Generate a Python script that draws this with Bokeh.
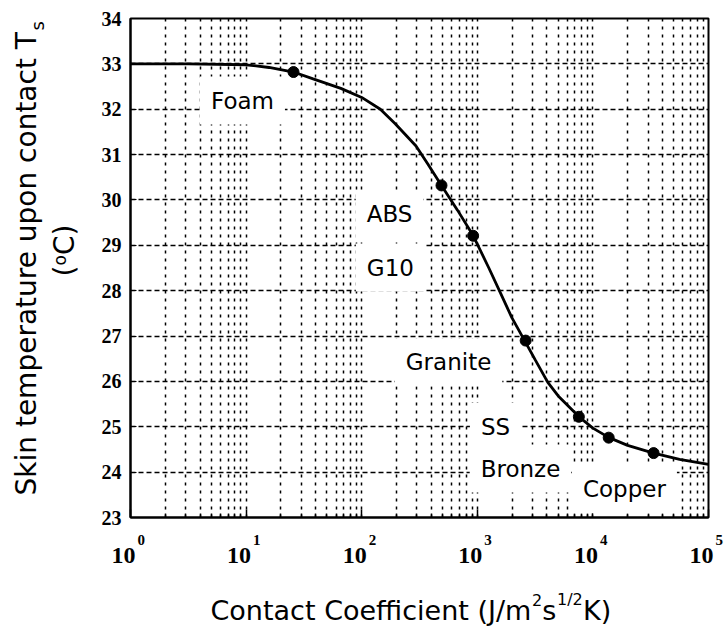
import math
from bokeh.plotting import figure
from bokeh.layouts import row, column
from bokeh.models import Label, FixedTicker, Range1d
from bokeh.embed import file_html
from bokeh.resources import INLINE

# ---- data ----
curve_x = [1, 3.16, 10, 15.8, 25.7, 38, 66, 100, 145, 195, 295, 372, 490, 676, 923,
           1259, 1585, 1995, 2630, 3162, 4074, 5012, 7586, 10000, 13800, 19950,
           33500, 56200, 100000]
curve_t = [33.00, 33.00, 32.98, 32.92, 32.82, 32.67, 32.46, 32.26, 32.00, 31.68,
           31.19, 30.80, 30.32, 29.77, 29.21, 28.50, 27.95, 27.40, 26.85, 26.48,
           25.98, 25.68, 25.22, 24.97, 24.76, 24.59, 24.42, 24.28, 24.17]

materials = ["Foam", "ABS", "G10", "Granite", "SS", "Bronze", "Copper"]
mat_coeff = [25.7, 490, 920, 2620, 7560, 13700, 33500]
mat_temp = [32.82, 30.32, 29.21, 26.90, 25.22, 24.76, 24.42]

y_ticks = [23, 24, 25, 26, 27, 28, 29, 30, 31, 32, 33, 34]
x_ticks = [1, 10, 100, 1000, 10000, 100000]
x_tick_base = ["10", "10", "10", "10", "10", "10"]
x_tick_exp = ["0", "1", "2", "3", "4", "5"]

# ---- page layout (canvas px) ----
W, H = 727, 631
LW = 90                          # width of the left title strip
L, R, T, B = 130, 708, 18, 517   # plot frame
MAIN_H = 529                     # height of the top row
DEC = (R - L) / 5.0              # px per decade

# ---------------- main plot ----------------
minor = [m * 10 ** d for d in range(5) for m in range(2, 10)]

p = figure(width=W - LW, height=MAIN_H, x_axis_type="log",
           x_range=Range1d(1, 1e5), y_range=Range1d(23, 34),
           output_backend="svg", toolbar_location=None,
           min_border_left=L - LW, min_border_right=W - R,
           min_border_top=T, min_border_bottom=MAIN_H - B)
p.background_fill_color = "white"
p.border_fill_color = "white"
p.outline_line_color = "black"
p.outline_line_width = 2

p.xaxis.ticker = FixedTicker(ticks=x_ticks, minor_ticks=minor)
p.xaxis.major_label_overrides = {t: "" for t in x_ticks}
p.xaxis.major_label_text_font_size = "1px"
p.xaxis.major_label_standoff = 0
p.xaxis.axis_line_width = 2
p.xaxis.major_tick_in = 8
p.xaxis.major_tick_out = 0
p.xaxis.minor_tick_in = 4
p.xaxis.minor_tick_out = 0
p.xaxis.major_tick_line_width = 1.5
p.xaxis.minor_tick_line_width = 1.5

p.yaxis.ticker = FixedTicker(ticks=y_ticks)
p.yaxis.major_label_text_font = "Liberation Serif"
p.yaxis.major_label_text_font_style = "bold"
p.yaxis.major_label_text_font_size = "20px"
p.yaxis.major_label_text_color = "black"
p.yaxis.major_label_standoff = 9
p.yaxis.axis_line_width = 2
p.yaxis.major_tick_in = 6
p.yaxis.major_tick_out = 0
p.yaxis.minor_tick_line_color = None

p.xgrid.grid_line_color = "black"
p.xgrid.grid_line_width = 1.5
p.xgrid.grid_line_dash = "3 5"
p.xgrid.minor_grid_line_color = "black"
p.xgrid.minor_grid_line_width = 1.5
p.xgrid.minor_grid_line_dash = "3 5"
p.ygrid.grid_line_color = "black"
p.ygrid.grid_line_width = 1.4
p.ygrid.grid_line_dash = "5 3"

p.line(curve_x, curve_t, line_width=2.8, color="black")
p.scatter(mat_coeff, mat_temp, size=11, color="black")

label_pos = {
    "Foam": (9.3, 32.19),
    "ABS": (174, 29.68),
    "G10": (177, 28.51),
    "Granite": (564, 26.42),
    "SS": (1437, 25.0),
    "Bronze": (2365, 24.08),
    "Copper": (18750, 23.62),
}
for name in materials:
    lx, ly = label_pos[name]
    p.add_layout(Label(x=lx, y=ly, text=name, text_font="DejaVu Sans",
                       text_font_size="23px", text_color="black",
                       text_align="center", text_baseline="middle",
                       background_fill_color="white", padding=11))

# ---------------- left strip: y title ----------------
lf = figure(width=LW, height=MAIN_H, x_range=Range1d(0, LW), y_range=Range1d(MAIN_H, 0),
            output_backend="svg", toolbar_location=None,
            x_axis_location=None, y_axis_location=None,
            min_border_left=0, min_border_right=0, min_border_top=0, min_border_bottom=0)
lf.outline_line_color = None
lf.background_fill_color = "white"
lf.border_fill_color = "white"
lf.xgrid.visible = False
lf.ygrid.visible = False

A = math.pi / 2
def llabel(text, cx, py, size):
    lf.add_layout(Label(x=cx, y=py, text=text, text_font="DejaVu Sans",
                        text_font_size=size, text_align="left",
                        text_baseline="middle", text_color="black", angle=A))

llabel("Skin temperature upon contact T", 26, 495, "28px")
llabel("s", 37, 30, "18px")
llabel("(", 64, 276, "28px")
llabel("o", 59, 265, "17px")
llabel("C)", 64, 254.5, "28px")

# ---------------- bottom strip: x tick labels + x title ----------------
bf = figure(width=W, height=H - MAIN_H, x_axis_type="log",
            x_range=Range1d(10 ** (-L / DEC), 10 ** (5 + (W - R) / DEC)),
            y_range=Range1d(H, MAIN_H),
            output_backend="svg", toolbar_location=None,
            x_axis_location=None, y_axis_location=None,
            min_border_left=0, min_border_right=0, min_border_top=0, min_border_bottom=0)
bf.outline_line_color = None
bf.background_fill_color = "white"
bf.border_fill_color = "white"
bf.xgrid.visible = False
bf.ygrid.visible = False

for tv, base, ex in zip(x_ticks, x_tick_base, x_tick_exp):
    bf.add_layout(Label(x=tv, y=555, x_offset=5,
                        text=base, text_font="Liberation Serif", text_font_style="bold",
                        text_font_size="24px", text_align="right",
                        text_baseline="alphabetic", text_color="black"))
    bf.add_layout(Label(x=tv, y=539, x_offset=7,
                        text=ex, text_font="Liberation Serif", text_font_style="bold",
                        text_font_size="15px", text_align="left",
                        text_baseline="alphabetic", text_color="black"))

def blabel(text, px, py, size):
    bf.add_layout(Label(x=px, y=H - py, x_units="screen", y_units="screen",
                        text=text, text_font="DejaVu Sans", text_font_size=size,
                        text_align="left", text_baseline="alphabetic",
                        text_color="black"))

blabel("Contact Coefficient (J/m", 210, 610, "27px")
blabel("2", 531.5, 599, "16px")
blabel("s", 541.7, 610, "27px")
blabel("1/2", 556.5, 599, "16px")
blabel("K)", 582.5, 610, "27px")

layout = column(row(lf, column(p)), column(bf))
open("out.html", "w").write(file_html(layout, INLINE))
